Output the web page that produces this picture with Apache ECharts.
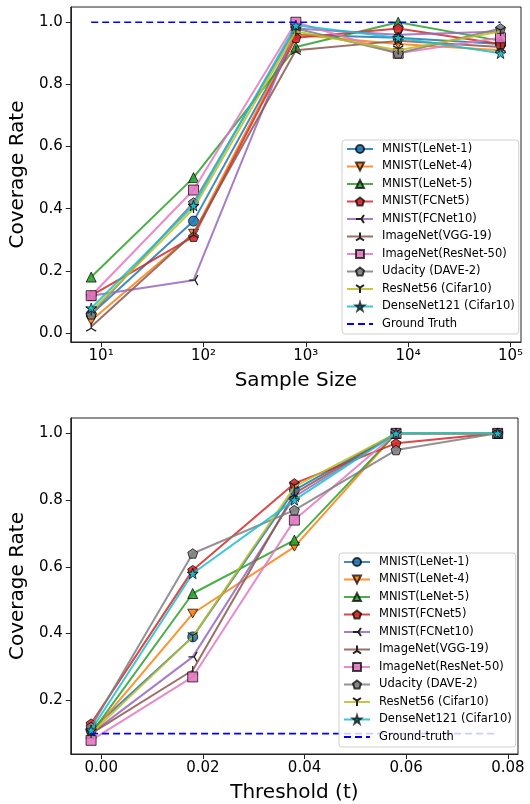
<!DOCTYPE html>
<html>
<head>
<meta charset="utf-8">
<script src="https://cdn.jsdelivr.net/npm/echarts@6/dist/echarts.min.js"></script>
<style>
html,body{margin:0;padding:0;background:#fff;}
#chart{width:530px;height:804px;}
</style>
</head>
<body>
<div id="chart"></div>
<script>
// ---------- data ----------
const sampleSizes = [8, 80, 800, 8000, 80000];
const thresholds = [-0.002, 0.018, 0.038, 0.058, 0.078];

const modelNames = ['MNIST(LeNet-1)', 'MNIST(LeNet-4)', 'MNIST(LeNet-5)', 'MNIST(FCNet5)', 'MNIST(FCNet10)',
  'ImageNet(VGG-19)', 'ImageNet(ResNet-50)', 'Udacity (DAVE-2)', 'ResNet56 (Cifar10)', 'DenseNet121 (Cifar10)'];

// Coverage vs sample size (top)
const sizeLeNet1   = [0.06, 0.36, 0.96, 0.95, 0.93];
const sizeLeNet4   = [0.04, 0.32, 0.96, 0.93, 0.91];
const sizeLeNet5   = [0.18, 0.50, 0.92, 1.00, 0.94];
const sizeFCNet5   = [0.12, 0.31, 0.95, 0.98, 0.93];
const sizeFCNet10  = [0.12, 0.17, 0.98, 0.96, 0.97];
const sizeVGG19    = [0.02, 0.32, 0.91, 0.94, 0.92];
const sizeResNet50 = [0.12, 0.46, 1.00, 0.90, 0.95];
const sizeDAVE2    = [0.06, 0.42, 0.98, 0.90, 0.98];
const sizeResNet56 = [0.07, 0.40, 0.97, 0.91, 0.97];
const sizeDense121 = [0.08, 0.41, 0.99, 0.95, 0.90];
const sizeTruth    = [1.00, 1.00, 1.00, 1.00, 1.00];

// Coverage vs threshold (bottom)
const thrLeNet1   = [0.11, 0.39, 0.83, 1.00, 1.00];
const thrLeNet4   = [0.10, 0.46, 0.66, 1.00, 1.00];
const thrLeNet5   = [0.10, 0.52, 0.68, 1.00, 1.00];
const thrFCNet5   = [0.13, 0.59, 0.85, 0.97, 1.00];
const thrFCNet10  = [0.10, 0.33, 0.81, 1.00, 1.00];
const thrVGG19    = [0.10, 0.29, 0.82, 1.00, 1.00];
const thrResNet50 = [0.08, 0.27, 0.74, 1.00, 1.00];
const thrDAVE2    = [0.12, 0.64, 0.77, 0.95, 1.00];
const thrResNet56 = [0.10, 0.39, 0.84, 1.00, 1.00];
const thrDense121 = [0.11, 0.58, 0.80, 1.00, 1.00];
const thrTruth    = [0.10, 0.10, 0.10, 0.10, 0.10];

// tick positions
const topXTicks = [10, 100, 1000, 10000, 100000];
const topXTickLabels = ['10¹', '10²', '10³', '10⁴', '10⁵'];
const topYTicks = [0, 0.2, 0.4, 0.6, 0.8, 1.0];
const botXTicks = [0, 0.02, 0.04, 0.06, 0.08];
const botYTicks = [0.2, 0.4, 0.6, 0.8, 1.0];

// ---------- styles ----------
const colors = ['#1f77b4','#ff7f0e','#2ca02c','#d62728','#9467bd','#8c564b','#e377c2','#7f7f7f','#bcbd22','#17becf'];
function starPath(){
  let p = '';
  for (let i = 0; i < 10; i++) {
    const r = i % 2 === 0 ? 1 : 0.382;
    const a = -Math.PI/2 + i * Math.PI/5;
    p += (i === 0 ? 'M' : 'L') + (r*Math.cos(a)).toFixed(3) + ',' + (r*Math.sin(a)).toFixed(3);
  }
  return 'path://' + p + 'Z';
}
const PENT = 'path://M0,-1L0.951,-0.309L0.588,0.809L-0.588,0.809L-0.951,-0.309Z';
const symbols = [
  {s:'circle', size:10},
  {s:'path://M0,0L2,0L1,1.732Z', size:10},
  {s:'triangle', size:10},
  {s:PENT, size:10},
  {s:'path://M0,0L-1,0M0,0L0.5,-0.866M0,0L0.5,0.866', size:10, tri:true},
  {s:'path://M0,0L0,-1M0,0L-0.866,0.5M0,0L0.866,0.5', size:10, tri:true},
  {s:'rect', size:10},
  {s:PENT, size:10},
  {s:'path://M0,0L0,1M0,0L-0.866,-0.5M0,0L0.866,-0.5', size:10, tri:true},
  {s:starPath(), size:11}
];

const sizeSets = [sizeLeNet1, sizeLeNet4, sizeLeNet5, sizeFCNet5, sizeFCNet10, sizeVGG19, sizeResNet50, sizeDAVE2, sizeResNet56, sizeDense121];
const thrSets  = [thrLeNet1, thrLeNet4, thrLeNet5, thrFCNet5, thrFCNet10, thrVGG19, thrResNet50, thrDAVE2, thrResNet56, thrDense121];

function zip(xs, ys){ return xs.map((x,i)=>[x, ys[i]]); }

function makeSeries(xs, sets, gi, truthName, truthVals){
  const out = sets.map((vals, i) => ({
    name: modelNames[i],
    type: 'line',
    xAxisIndex: gi, yAxisIndex: gi,
    data: zip(xs, vals),
    symbol: symbols[i].s,
    symbolSize: symbols[i].size,
    symbolKeepAspect: true,
    showAllSymbol: true,
    lineStyle: {color: colors[i], width: 2, opacity: 0.85},
    itemStyle: symbols[i].tri
      ? {color: colors[i], borderColor: '#222', borderWidth: 1.3}
      : {color: colors[i], borderColor: 'rgba(0,0,0,0.8)', borderWidth: 1, opacity: 0.9},
    emphasis: {disabled: true},
    z: 2 + i * 0.01
  }));
  out.push({
    name: truthName,
    type: 'line',
    xAxisIndex: gi, yAxisIndex: gi,
    data: zip(xs, truthVals),
    symbol: 'none',
    lineStyle: {color: '#0000ff', width: 1.6, type: [7, 4]},
    itemStyle: {color: '#0000ff'},
    emphasis: {disabled: true},
    z: 3
  });
  return out;
}

const FONT = 'DejaVu Sans';
const tickFont = {fontFamily: FONT, fontSize: 15, color: '#000'};
const nameFont = {fontFamily: FONT, fontSize: 20, color: '#000'};
const axisLineCfg = {show: true, onZero: false, lineStyle: {color: '#222'}};
function tickCfg(vals){ return {show: true, inside: false, length: 5, lineStyle: {color: '#222'}, customValues: vals}; }

function legendCfg(top, left, names, truthName){
  return {
    orient: 'vertical', left: left, top: top,
    data: names.map(n => n === truthName ? {name: n, itemStyle: {opacity: 0}} : n),
    itemWidth: 26, itemHeight: 10, itemGap: 3.5,
    padding: [2, 4, 3, 4],
    backgroundColor: 'rgba(255,255,255,0.8)',
    borderColor: '#d0d0d0', borderWidth: 1, borderRadius: 3,
    textStyle: {fontFamily: FONT, fontSize: 11.5, color: '#000', lineHeight: 14, padding: [0,0,0,4]},
    selectedMode: false
  };
}

const chart = echarts.init(document.getElementById('chart'), null, {renderer: 'canvas'});
chart.setOption({
  animation: false,
  backgroundColor: '#fff',
  grid: [
    {left: 67, right: 9, top: 7, height: 335, show: true, borderColor: '#222', borderWidth: 1},
    {left: 67, right: 12, top: 418, height: 336, show: true, borderColor: '#222', borderWidth: 1}
  ],
  xAxis: [
    {
      type: 'log', gridIndex: 0, logBase: 10,
      min: 5.05, max: 126800,
      name: 'Sample Size', nameLocation: 'middle', nameGap: 29, nameTextStyle: nameFont,
      axisLine: axisLineCfg,
      axisTick: tickCfg(topXTicks),
      axisLabel: Object.assign({margin: 7, customValues: topXTicks, formatter: v => {
        const i = topXTicks.findIndex(t => Math.abs(t - v) / t < 1e-6);
        return i >= 0 ? topXTickLabels[i] : '';
      }}, tickFont),
      splitLine: {show: false}, minorTick: {show: false}
    },
    {
      type: 'value', gridIndex: 1,
      min: -0.006, max: 0.082,
      name: 'Threshold (t)', nameLocation: 'middle', nameGap: 29, nameTextStyle: nameFont,
      axisLine: axisLineCfg,
      axisTick: tickCfg(botXTicks),
      axisLabel: Object.assign({margin: 7, customValues: botXTicks, formatter: v => v.toFixed(2)}, tickFont),
      splitLine: {show: false}
    }
  ],
  yAxis: [
    {
      type: 'value', gridIndex: 0, min: -0.029, max: 1.049,
      name: 'Coverage Rate', nameLocation: 'middle', nameGap: 39, nameRotate: 90, nameTextStyle: nameFont,
      axisLine: axisLineCfg,
      axisTick: tickCfg(topYTicks),
      axisLabel: Object.assign({margin: 8, customValues: topYTicks, formatter: v => v.toFixed(1)}, tickFont),
      splitLine: {show: false}
    },
    {
      type: 'value', gridIndex: 1, min: 0.039, max: 1.046,
      name: 'Coverage Rate', nameLocation: 'middle', nameGap: 39, nameRotate: 90, nameTextStyle: nameFont,
      axisLine: axisLineCfg,
      axisTick: tickCfg(botYTicks),
      axisLabel: Object.assign({margin: 8, customValues: botYTicks, formatter: v => v.toFixed(1)}, tickFont),
      splitLine: {show: false}
    }
  ],
  legend: [
    legendCfg(140, 342, modelNames.concat(['Ground Truth']), 'Ground Truth'),
    legendCfg(553, 339, modelNames.concat(['Ground-truth']), 'Ground-truth')
  ],
  series: makeSeries(sampleSizes, sizeSets, 0, 'Ground Truth', sizeTruth)
    .concat(makeSeries(thresholds, thrSets, 1, 'Ground-truth', thrTruth))
});
</script>
</body>
</html>
